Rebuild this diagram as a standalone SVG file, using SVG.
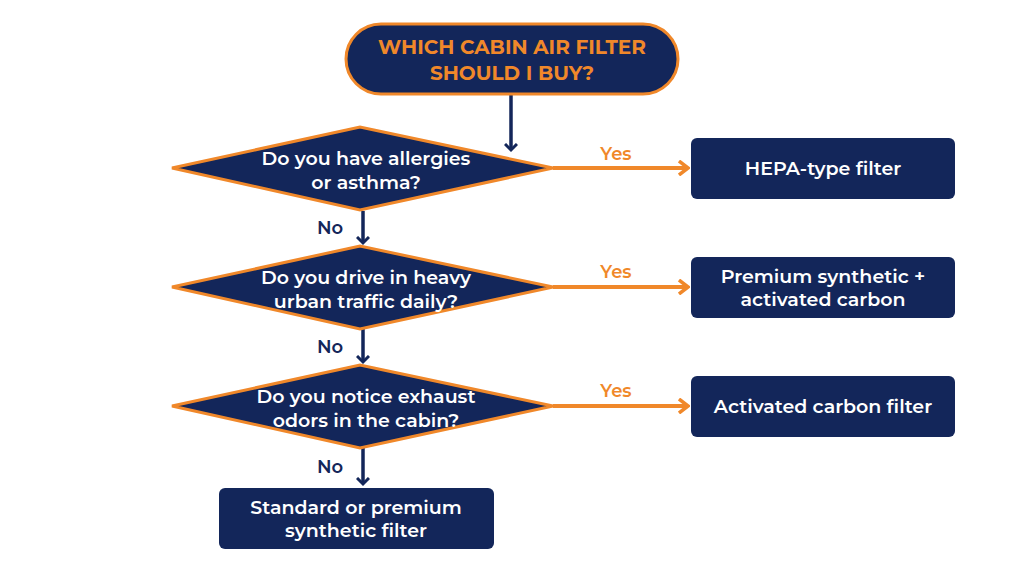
<svg xmlns="http://www.w3.org/2000/svg" width="1024" height="572" viewBox="0 0 1024 572">
<defs>
<marker id="an" markerWidth="14" markerHeight="14" refX="7" refY="7" orient="auto" markerUnits="userSpaceOnUse"><path d="M1,1 L7,7 L1,13" fill="none" stroke="#13265a" stroke-width="3"/></marker>
<marker id="ao" markerWidth="12" markerHeight="16" refX="10" refY="8" orient="auto" markerUnits="userSpaceOnUse"><path d="M1,1 L10,8 L1,15" fill="none" stroke="#f0882a" stroke-width="3.5"/></marker>
</defs>
<style>
text{font-family:Montserrat,"Open Sans","Liberation Sans",sans-serif;font-weight:600;text-anchor:middle}
.d{fill:#13265a;stroke:#f0882a;stroke-width:3}
.b{fill:#13265a}
.w{fill:#fff;font-size:19px}
.o{fill:#f0882a;font-size:18px}
.n{fill:#13265a;font-size:18px}
.t{fill:#f0882a;font-size:20px;font-weight:700}
.yl{stroke:#f0882a;stroke-width:4;fill:none}
.nl{stroke:#13265a;stroke-width:3.5;fill:none}
</style>
<rect width="1024" height="572" fill="#fff"/>
<g id="connectors">
<line class="nl" x1="511" y1="95" x2="511" y2="150" marker-end="url(#an)"/>
<line class="nl" x1="363" y1="211" x2="363" y2="243" marker-end="url(#an)"/>
<line class="nl" x1="363" y1="329" x2="363" y2="362" marker-end="url(#an)"/>
<line class="nl" x1="363" y1="448" x2="363" y2="484" marker-end="url(#an)"/>
<line class="yl" x1="553" y1="168" x2="688" y2="168" marker-end="url(#ao)"/>
<line class="yl" x1="553" y1="287" x2="688" y2="287" marker-end="url(#ao)"/>
<line class="yl" x1="553" y1="406" x2="688" y2="406" marker-end="url(#ao)"/>
<text class="o" x="616" y="160">Yes</text>
<text class="o" x="616" y="278">Yes</text>
<text class="o" x="616" y="397">Yes</text>
<text class="n" x="330" y="234">No</text>
<text class="n" x="330" y="353">No</text>
<text class="n" x="330" y="473">No</text>
</g>
<g id="start">
<rect class="d" x="346" y="24" width="332" height="70" rx="35"/>
<text class="t" x="512" y="54">WHICH CABIN AIR FILTER</text>
<text class="t" x="512" y="80">SHOULD I BUY?</text>
</g>
<g id="q1">
<polygon class="d" points="172,168 360,127 553,168 360,210"/>
<text class="w" x="366" y="165">Do you have allergies</text>
<text class="w" x="366" y="189">or asthma?</text>
</g>
<g id="q2">
<polygon class="d" points="172,287 360,246 553,287 360,329"/>
<text class="w" x="366" y="284">Do you drive in heavy</text>
<text class="w" x="366" y="308">urban traffic daily?</text>
</g>
<g id="q3">
<polygon class="d" points="172,406 360,365 553,406 360,448"/>
<text class="w" x="366" y="403">Do you notice exhaust</text>
<text class="w" x="366" y="427">odors in the cabin?</text>
</g>
<g id="r1"><rect class="b" x="691" y="138" width="264" height="61" rx="6"/><text class="w" x="823" y="175">HEPA-type filter</text></g>
<g id="r2"><rect class="b" x="691" y="257" width="264" height="61" rx="6"/><text class="w" x="823" y="283">Premium synthetic +</text><text class="w" x="823" y="306">activated carbon</text></g>
<g id="r3"><rect class="b" x="691" y="376" width="264" height="61" rx="6"/><text class="w" x="823" y="413">Activated carbon filter</text></g>
<g id="r4"><rect class="b" x="219" y="488" width="275" height="61" rx="6"/><text class="w" x="356" y="514">Standard or premium</text><text class="w" x="356" y="537">synthetic filter</text></g>
</svg>
